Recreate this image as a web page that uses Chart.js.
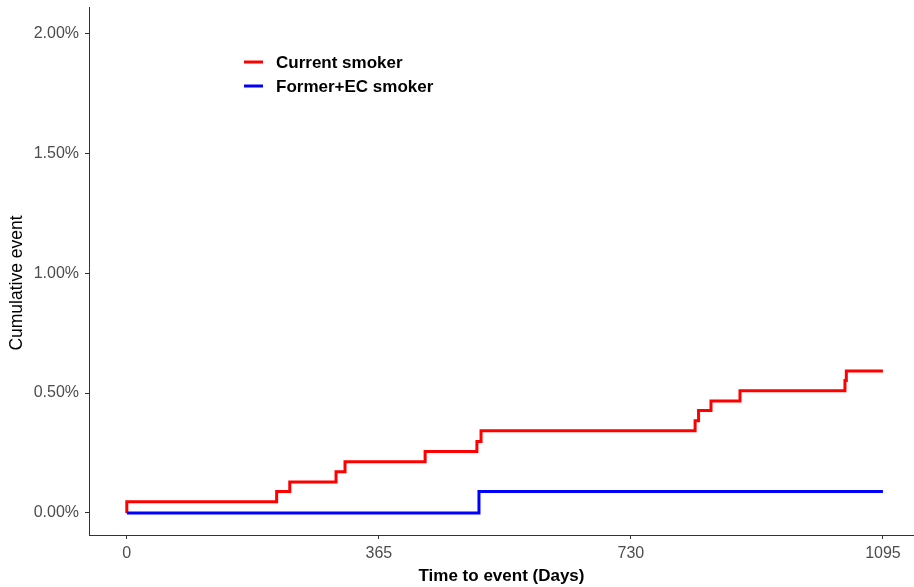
<!DOCTYPE html>
<html>
<head>
<meta charset="utf-8">
<script src="https://cdn.jsdelivr.net/npm/chart.js@4/dist/chart.umd.min.js"></script>
<style>
  html, body { margin: 0; padding: 0; background: #ffffff; }
  #wrap { width: 914px; height: 587px; position: relative; }
</style>
</head>
<body>
<div id="wrap"><canvas id="c" width="914" height="587"></canvas></div>
<script>
// ---- Data ----
const seriesNames = ['Current smoker', 'Former+EC smoker'];
const seriesColors = ['#FF0000', '#0000FF'];
const currentDays = [0, 0, 217, 236, 303, 316, 432, 507, 513, 823, 828, 846, 888, 1040, 1042, 1095];
const currentPct  = [0, 0.047, 0.089, 0.129, 0.172, 0.213, 0.256, 0.298, 0.343, 0.384, 0.427, 0.467, 0.510, 0.552, 0.592, 0.592];
const formerDays  = [0, 510, 1095];
const formerPct   = [0, 0.089, 0.089];
const xTickValues = [0, 365, 730, 1095];
const yTickValues = [0, 0.5, 1.0, 1.5, 2.0];
const xTitle = 'Time to event (Days)';
const yTitle = 'Cumulative event';

const FONT = "'Liberation Sans', Arial, sans-serif";

const toPoints = (xs, ys) => xs.map((x, i) => ({ x: x, y: ys[i] }));

const legendPlugin = {
  id: 'ggLegend',
  afterDraw(chart) {
    const ctx = chart.ctx;
    ctx.save();
    const rows = [62, 86];
    seriesNames.forEach((name, i) => {
      const y = rows[i];
      ctx.strokeStyle = seriesColors[i];
      ctx.lineWidth = 3;
      ctx.beginPath();
      ctx.moveTo(244, y);
      ctx.lineTo(263, y);
      ctx.stroke();
      ctx.fillStyle = '#000000';
      ctx.font = "bold 17px " + FONT;
      ctx.textBaseline = 'middle';
      ctx.textAlign = 'left';
      ctx.fillText(name, 276, y + 1);
    });
    // y-axis title
    ctx.translate(17, 283);
    ctx.rotate(-Math.PI / 2);
    ctx.fillStyle = '#000000';
    ctx.font = "17.5px " + FONT;
    ctx.textAlign = 'center';
    ctx.textBaseline = 'middle';
    ctx.fillText(yTitle, 0, 0);
    ctx.restore();
  }
};

new Chart(document.getElementById('c'), {
  type: 'line',
  data: {
    datasets: [
      {
        label: seriesNames[0],
        data: toPoints(currentDays, currentPct),
        borderColor: seriesColors[0],
        borderWidth: 3,
        pointRadius: 0,
        stepped: 'before',
        fill: false,
        order: 1
      },
      {
        label: seriesNames[1],
        data: toPoints(formerDays, formerPct),
        borderColor: seriesColors[1],
        borderWidth: 3,
        pointRadius: 0,
        stepped: 'before',
        fill: false,
        order: 0
      }
    ]
  },
  options: {
    responsive: false,
    animation: false,
    devicePixelRatio: 1,
    layout: { padding: { top: 7, right: 0, left: 0, bottom: 0 } },
    plugins: { legend: { display: false }, tooltip: { enabled: false } },
    scales: {
      x: {
        type: 'linear',
        min: -54.75,
        max: 1140,
        afterBuildTicks: (s) => { s.ticks = xTickValues.map(v => ({ value: v })); },
        afterFit: (s) => { s.height = 52; s.paddingLeft = 0; s.paddingRight = 0; },
        ticks: {
          font: { family: FONT, size: 16 },
          color: '#4D4D4D',
          padding: 5,
          maxRotation: 0,
          autoSkip: false,
          callback: (v) => String(v)
        },
        grid: { drawOnChartArea: false, drawTicks: true, tickLength: 4, color: '#333333', lineWidth: 1 },
        border: { display: true, color: '#333333', width: 1 },
        title: {
          display: true,
          text: xTitle,
          font: { family: FONT, size: 17, weight: 'bold' },
          color: '#000000',
          padding: { top: 0, bottom: 0 }
        }
      },
      y: {
        type: 'linear',
        min: -0.092,
        max: 2.11,
        afterBuildTicks: (s) => { s.ticks = yTickValues.map(v => ({ value: v })); },
        afterFit: (s) => { s.width = 89; s.paddingTop = 0; s.paddingBottom = 0; },
        ticks: {
          font: { family: FONT, size: 16 },
          color: '#4D4D4D',
          padding: 6,
          autoSkip: false,
          callback: (v) => v.toFixed(2) + '%'
        },
        grid: { drawOnChartArea: false, drawTicks: true, tickLength: 4, color: '#333333', lineWidth: 1 },
        border: { display: true, color: '#333333', width: 1 },
        title: { display: false, text: yTitle }
      }
    }
  },
  plugins: [legendPlugin]
});
</script>
</body>
</html>
